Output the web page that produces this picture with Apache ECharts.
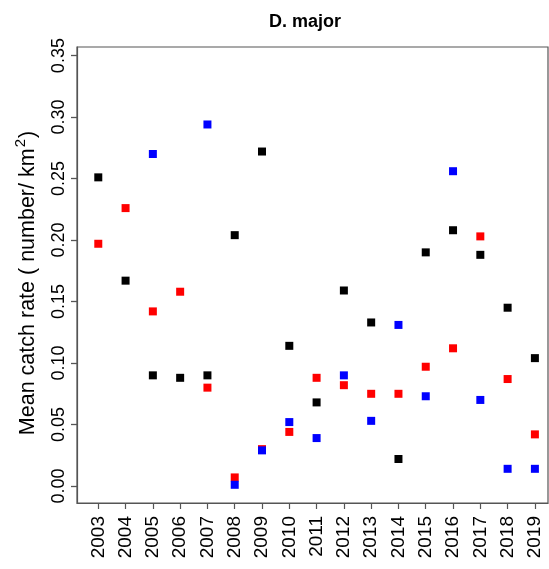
<!DOCTYPE html>
<html>
<head>
<meta charset="utf-8">
<script src="https://cdn.jsdelivr.net/npm/echarts@6/dist/echarts.min.js"></script>
<style>html,body{margin:0;padding:0;background:#fff}#c{width:549px;height:569px}</style>
</head>
<body>
<div id="c"></div>
<script>
const years = [2003,2004,2005,2006,2007,2008,2009,2010,2011,2012,2013,2014,2015,2016,2017,2018,2019];
const blackVals = [0.251,0.167,0.090,0.088,0.090,0.204,0.272,0.114,0.068,0.159,0.133,0.022,0.190,0.208,0.188,0.145,0.104];
const redVals   = [0.197,0.226,0.142,0.158,0.080,0.007,0.030,0.044,0.088,0.082,0.075,0.075,0.097,0.112,0.203,0.087,0.042];
const blueVals  = [null,null,0.270,null,0.294,0.001,0.029,0.052,0.039,0.090,0.053,0.131,0.073,0.256,0.070,0.014,0.014];
const yTicks = [0.00,0.05,0.10,0.15,0.20,0.25,0.30,0.35];
const title = 'D. major';
const yNameMain = 'Mean catch rate ( number/ km';
const yNameSup = '2';
const yNameEnd = ')';

function pairs(vals){ const out=[]; vals.forEach((v,i)=>{ if(v!==null) out.push([years[i],v]); }); return out; }
const FONT = 'Liberation Sans, Arial, Helvetica, sans-serif';
const chart = echarts.init(document.getElementById('c'), null, {renderer:'canvas'});
chart.setOption({
  animation:false,
  backgroundColor:'#fff',
  title:{text:title,left:300,top:8,textAlign:'center',textStyle:{fontFamily:FONT,fontSize:18,fontWeight:'bold',color:'#000'}},
  grid:{left:77,top:47,right:1,bottom:66,show:true,borderColor:'#555',borderWidth:1.2,backgroundColor:'transparent'},
  graphic:[{
    type:'text',x:26,y:283,rotation:Math.PI/2,
    style:{
      text:'{n|'+yNameMain+'}{s|'+yNameSup+'}{n|'+yNameEnd+'}',
      align:'center',verticalAlign:'middle',
      rich:{
        n:{fontFamily:FONT,fontSize:21.5,fill:'#000',lineHeight:26,verticalAlign:'bottom'},
        s:{fontFamily:FONT,fontSize:15,fill:'#000',lineHeight:26,verticalAlign:'top',padding:[0,1,11,1]}
      }
    }
  }],
  xAxis:{type:'value',min:2002.22,max:2019.48,
    axisLine:{show:true,onZero:false,lineStyle:{color:'#555',width:1.2}},
    splitLine:{show:false},
    axisTick:{show:true,customValues:years,length:6,inside:false,lineStyle:{color:'#555',width:1.2}},
    axisLabel:{customValues:years,rotate:90,margin:13,fontFamily:FONT,fontSize:19,color:'#000',formatter:v=>String(v)}},
  yAxis:{type:'value',min:-0.0138,max:0.357,
    axisLine:{show:true,onZero:false,lineStyle:{color:'#555',width:1.2}},
    splitLine:{show:false},
    axisTick:{show:true,customValues:yTicks,length:6,inside:false,lineStyle:{color:'#555',width:1.3}},
    axisLabel:{customValues:yTicks,rotate:90,margin:9,fontFamily:FONT,fontSize:18,color:'#000',formatter:v=>v.toFixed(2)}},
  series:[
    {type:'scatter',symbol:'rect',symbolSize:8,itemStyle:{color:'#000000',opacity:1},data:pairs(blackVals)},
    {type:'scatter',symbol:'rect',symbolSize:8,itemStyle:{color:'#ff0000',opacity:1},data:pairs(redVals)},
    {type:'scatter',symbol:'rect',symbolSize:8,itemStyle:{color:'#0000ff',opacity:1},data:pairs(blueVals)}
  ]
});
</script>
</body>
</html>
